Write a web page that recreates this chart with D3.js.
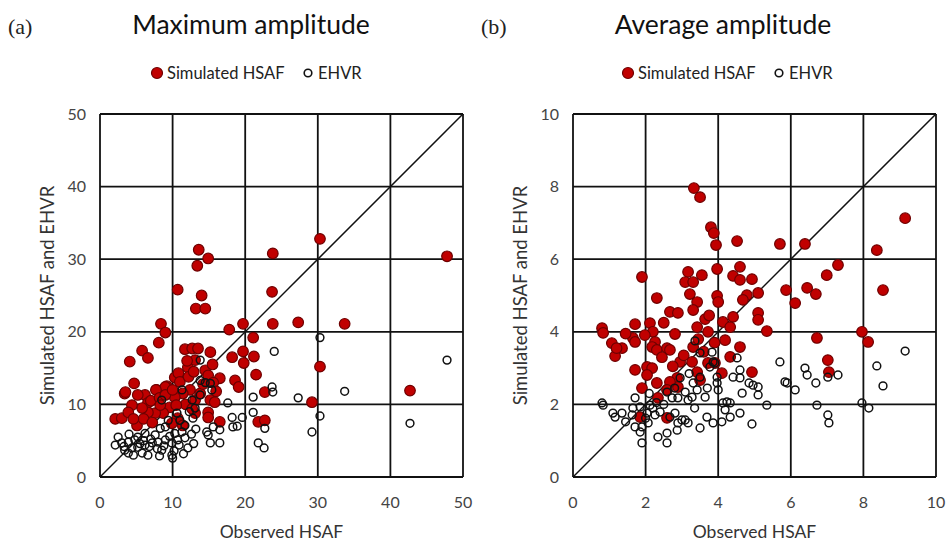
<!DOCTYPE html>
<html>
<head>
<meta charset="utf-8">
<script src="https://cdn.jsdelivr.net/npm/d3@7"></script>
<style>
  body { margin: 0; background: #fff; }
  svg { display: block; }
</style>
</head>
<body>
<script>
// observed vs simulated, maximum amplitude (panel a)
var maxHsaf = [
  [47.8,30.4],[42.7,11.9],[30.3,32.8],[23.8,30.8],[13.6,31.3],[14.9,30.1],[13.4,29.1],
  [10.7,25.8],[14.0,25.0],[23.7,25.5],[13.2,23.2],[14.5,23.2],[8.4,21.1],[9.0,19.9],
  [8.1,18.5],[17.8,20.3],[19.7,21.1],[23.8,21.1],[27.3,21.3],[33.7,21.1],[21.1,19.2],
  [5.8,17.4],[6.6,16.4],[4.1,15.9],[11.7,17.6],[12.7,17.7],[13.5,17.7],[15.2,17.2],
  [18.2,16.5],[19.7,17.3],[21.2,16.6],[19.8,15.7],[30.3,15.2],[21.5,14.1],[16.5,13.6],
  [18.6,13.3],[19.1,12.4],[22.7,11.7],[29.2,10.3],[21.8,7.6],[22.7,7.8],[16.5,7.6],
  [4.7,12.9],[3.4,11.5],[2.1,8.0],[3.0,8.1],[5.1,7.1],[6.2,11.3],[6.6,10.2],[7.8,12.0],
  [9.2,12.5],[10.3,13.7],[10.8,14.3],[12.1,15.1],[13.1,16.1],[14.5,14.7],[14.9,14.0],
  [15.6,13.0],[15.2,10.6],[15.8,10.3],[14.9,8.9],[13.1,10.6],[12.4,12.0],[11.4,11.5],
  [10.3,11.0],[9.6,9.6],[8.7,8.8],[7.6,8.8],[6.6,8.9],[5.8,9.5],[4.4,9.9],[3.9,8.9],
  [10.7,8.1],[11.4,7.1],[9.9,7.4],[13.1,8.8],[14.9,8.2],[9.0,12.4],[5.2,11.3],[3.5,11.7],
  [7.7,12.0],[7.0,10.5],[8.2,10.9],[9.0,11.3],[10.0,12.0],[11.0,13.1],[12.2,13.8],
  [12.9,14.5],[11.8,10.0],[12.7,9.4],[10.5,9.9],[8.3,9.9],[6.0,8.0],[4.6,8.0],[13.8,11.5],
  [14.2,12.8],[16.0,11.8],[7.2,7.5],[12.0,16.0],[15.5,15.5]
];
var maxEhvr = [
  [30.3,19.2],[24.0,17.3],[47.8,16.1],[13.8,16.1],[23.7,12.4],[23.8,11.7],[33.7,11.8],
  [27.3,10.9],[21.1,11.0],[21.1,8.9],[17.6,10.2],[19.6,8.2],[18.9,7.0],[18.2,8.2],
  [18.3,6.9],[30.3,8.4],[29.2,6.2],[42.7,7.4],[22.7,6.7],[21.8,4.7],[22.6,4.0],[16.5,4.7],
  [16.5,6.5],[15.2,4.7],[14.7,6.2],[14.9,5.8],[15.6,6.9],[14.5,13.0],[15.2,12.9],
  [13.8,11.3],[12.7,10.6],[13.1,9.5],[12.8,8.1],[11.7,7.1],[2.1,4.4],[3.0,4.7],[3.9,4.8],
  [4.8,5.1],[3.4,3.7],[4.4,4.0],[5.2,4.1],[6.2,4.4],[7.2,4.7],[8.0,4.8],[9.0,5.1],
  [9.9,4.7],[10.7,5.1],[11.7,5.4],[12.1,4.0],[9.9,3.0],[8.5,3.7],[6.6,3.0],[5.8,3.3],
  [3.9,3.3],[7.6,5.8],[8.3,6.7],[9.0,6.9],[10.3,6.0],[11.3,6.2],[10.6,8.8],[9.4,7.8],
  [6.2,6.0],[5.2,5.5],[2.5,5.5],[13.8,13.3],[15.4,12.0],[8.5,10.6],[11.3,12.0],
  [4.0,5.9],[5.5,4.6],[6.8,4.2],[7.9,3.9],[8.8,4.3],[10.2,3.6],[10.9,4.4],[11.5,3.2],
  [7.0,5.2],[9.6,5.6],[12.6,5.9],[13.2,6.6],[6.0,5.0],[4.6,3.0],[3.3,4.2],[8.2,2.9],
  [10.0,2.6],[12.9,4.6],[11.0,7.8],[12.3,9.0]
];
// observed vs simulated, average amplitude (panel b)
var avgHsaf = [
  [3.33,7.96],[3.50,7.71],[3.80,6.88],[3.88,6.72],[3.94,6.39],[4.52,6.50],[5.70,6.42],
  [6.39,6.42],[9.15,7.13],[8.37,6.25],[7.30,5.84],[6.99,5.56],[8.54,5.15],[1.90,5.51],
  [3.17,5.65],[3.55,5.56],[3.09,5.37],[3.31,5.37],[3.97,5.73],[4.60,5.79],[4.41,5.54],
  [4.60,5.43],[4.93,5.45],[5.10,5.07],[5.87,5.15],[6.45,5.21],[6.69,5.04],[2.31,4.93],
  [3.22,5.04],[3.97,4.99],[4.79,5.01],[6.12,4.79],[3.42,4.82],[4.0,4.82],[4.68,4.88],
  [2.67,4.55],[2.89,4.52],[3.31,4.60],[3.64,4.35],[5.10,4.52],[5.10,4.33],[4.41,4.41],
  [5.34,4.02],[0.80,4.10],[0.83,3.97],[1.71,4.21],[1.65,3.83],[2.12,4.24],[2.20,4.0],
  [2.81,3.94],[3.42,4.13],[3.72,4.0],[4.13,4.27],[4.33,4.13],[4.19,3.77],[1.07,3.69],
  [1.35,3.55],[1.16,3.33],[1.71,3.72],[1.98,3.91],[2.26,3.72],[2.18,3.58],[2.31,3.50],
  [2.59,3.55],[2.67,3.50],[3.31,3.58],[4.60,3.58],[6.72,3.83],[7.96,4.0],[8.13,3.72],
  [2.95,3.17],[3.72,3.14],[3.91,3.14],[4.33,3.31],[4.93,2.89],[7.02,3.22],[7.05,2.89],
  [1.71,2.95],[2.04,3.03],[2.18,3.00],[2.04,2.81],[2.87,2.73],[2.89,2.48],[2.67,2.62],
  [3.28,3.17],[3.42,2.89],[3.50,2.67],[4.10,2.86],[1.90,2.45],[2.31,2.59],[2.34,2.18],
  [2.59,2.40],[1.85,1.65],[2.59,1.63],[2.45,3.30],[2.75,3.05],[3.05,3.35],[3.60,3.45],
  [3.45,3.80],[3.75,4.45],[2.50,4.25],[1.45,3.95],[1.20,3.55],[3.90,3.70]
];
var avgEhvr = [
  [9.15,3.47],[8.37,3.06],[8.54,2.51],[7.96,2.04],[8.15,1.90],[7.30,2.81],[7.02,2.75],
  [6.69,2.59],[6.72,1.98],[7.02,1.71],[7.05,1.49],[6.39,3.00],[6.45,2.81],[5.70,3.17],
  [5.84,2.62],[5.90,2.59],[6.12,2.40],[5.34,1.98],[4.93,1.46],[4.60,1.76],[5.10,2.48],
  [5.10,2.26],[4.85,2.59],[4.96,2.53],[4.66,2.31],[4.41,2.75],[4.60,2.95],[4.60,2.73],
  [4.52,3.28],[3.83,3.44],[3.36,3.75],[3.50,3.42],[3.86,3.17],[3.97,2.75],[3.97,2.59],
  [4.0,2.40],[4.24,2.07],[4.13,2.04],[4.33,2.04],[4.19,1.85],[4.33,1.65],[4.10,1.52],
  [3.86,1.49],[3.69,1.65],[3.50,1.35],[3.31,2.59],[3.42,2.40],[3.28,2.20],[3.64,2.20],
  [2.95,2.73],[3.09,2.34],[3.17,2.12],[2.89,2.18],[3.0,1.57],[3.09,1.57],[3.17,1.49],
  [2.87,1.29],[2.89,1.49],[2.73,2.18],[2.59,2.34],[2.59,1.21],[2.59,0.94],[2.34,1.10],
  [2.26,1.71],[2.40,1.79],[2.04,1.76],[2.07,1.49],[1.90,1.38],[1.90,0.94],[1.85,1.24],
  [1.71,2.18],[1.65,1.90],[1.63,1.71],[1.71,1.38],[1.85,1.93],[2.12,1.98],[2.20,1.90],
  [0.80,2.04],[0.83,1.98],[1.10,1.76],[1.16,1.65],[1.35,1.76],[2.81,1.76],[2.67,1.65],
  [3.77,3.03],[3.91,3.14],[2.10,2.30],[2.30,2.05],[2.50,2.00],[2.80,2.45],[3.50,2.75],
  [3.20,2.85],[3.70,2.45],[2.00,1.62],[1.45,1.52],[3.35,1.90]
];
var maxTicks = [0, 10, 20, 30, 40, 50];
var avgTicks = [0, 2, 4, 6, 8, 10];

var W = 946, H = 542;
var svg = d3.select("body").append("svg")
  .attr("width", W)
  .attr("height", H);

var sansFont = "Lato, 'Open Sans', sans-serif";

function drawPanel(opt) {
  var x = d3.scaleLinear().domain([0, opt.max]).range([opt.left, opt.left + 363]);
  var y = d3.scaleLinear().domain([0, opt.max]).range([477, 114]);
  var g = svg.append("g");

  // gridlines
  g.selectAll(".vgrid").data(opt.ticks).enter().append("line")
    .attr("x1", function(d) { return x(d); }).attr("x2", function(d) { return x(d); })
    .attr("y1", y(0)).attr("y2", y(opt.max))
    .attr("stroke", "#111").attr("stroke-width", 1.8);
  g.selectAll(".hgrid").data(opt.ticks).enter().append("line")
    .attr("y1", function(d) { return y(d); }).attr("y2", function(d) { return y(d); })
    .attr("x1", x(0)).attr("x2", x(opt.max))
    .attr("stroke", "#111").attr("stroke-width", 1.8);

  // 1:1 line
  g.append("line")
    .attr("x1", x(0)).attr("y1", y(0))
    .attr("x2", x(opt.max)).attr("y2", y(opt.max))
    .attr("stroke", "#111").attr("stroke-width", 1.5);

  // tick labels
  g.selectAll(".xt").data(opt.ticks).enter().append("text")
    .attr("x", function(d) { return x(d); })
    .attr("y", 508)
    .attr("text-anchor", "middle")
    .attr("fill", "#444")
    .style("font-family", sansFont).style("font-size", "16px")
    .text(function(d) { return d; });
  g.selectAll(".yt").data(opt.ticks).enter().append("text")
    .attr("x", opt.left - 14)
    .attr("y", function(d) { return y(d) + 5.5; })
    .attr("text-anchor", "end")
    .attr("fill", "#444")
    .style("font-family", sansFont).style("font-size", "16px")
    .text(function(d) { return d; });

  // axis titles
  g.append("text")
    .attr("x", x(opt.max / 2)).attr("y", 538)
    .attr("text-anchor", "middle")
    .attr("fill", "#333")
    .style("font-family", sansFont).style("font-size", "17.5px")
    .text("Observed HSAF");
  g.append("text")
    .attr("transform", "translate(" + (opt.left - 46) + "," + y(opt.max / 2) + ") rotate(-90)")
    .attr("text-anchor", "middle")
    .attr("fill", "#333")
    .style("font-family", sansFont).style("font-size", "18.5px")
    .text("Simulated HSAF and EHVR");

  // points: simulated first, EHVR on top
  g.selectAll(".sim").data(opt.sim).enter().append("circle")
    .attr("cx", function(d) { return x(d[0]); })
    .attr("cy", function(d) { return y(d[1]); })
    .attr("r", 5.3)
    .attr("fill", "#c00000")
    .attr("stroke", "#6e0000")
    .attr("stroke-width", 1.2);
  g.selectAll(".ehvr").data(opt.ehvr).enter().append("circle")
    .attr("cx", function(d) { return x(d[0]); })
    .attr("cy", function(d) { return y(d[1]); })
    .attr("r", 3.9)
    .attr("fill", "none")
    .attr("stroke", "#111")
    .attr("stroke-width", 1.5);

  // panel letter and title
  g.append("text")
    .attr("x", opt.left - 92).attr("y", 34)
    .style("font-family", "'Liberation Serif', serif").style("font-size", "22px")
    .attr("fill", "#222")
    .text(opt.letter);
  g.append("text")
    .attr("x", opt.titleX).attr("y", 34)
    .attr("text-anchor", "middle")
    .attr("fill", "#111")
    .style("font-family", sansFont).style("font-size", "26.5px")
    .text(opt.title);

  // legend
  var lg = g.append("g").attr("transform", "translate(" + opt.legendX + ",73)");
  lg.append("circle").attr("cx", 0).attr("cy", 0).attr("r", 5.5)
    .attr("fill", "#c00000").attr("stroke", "#6e0000").attr("stroke-width", 1.2);
  lg.append("text").attr("x", 10).attr("y", 5.8)
    .attr("fill", "#222")
    .style("font-family", sansFont).style("font-size", "16.5px")
    .text("Simulated HSAF");
  lg.append("circle").attr("cx", 151).attr("cy", 0).attr("r", 3.8)
    .attr("fill", "none").attr("stroke", "#111").attr("stroke-width", 1.6);
  lg.append("text").attr("x", 161).attr("y", 5.8)
    .attr("fill", "#222")
    .style("font-family", sansFont).style("font-size", "16.5px")
    .text("EHVR");
}

drawPanel({ left: 100, max: 50, ticks: maxTicks, sim: maxHsaf, ehvr: maxEhvr,
  letter: "(a)", title: "Maximum amplitude", titleX: 251, legendX: 157 });
drawPanel({ left: 573, max: 10, ticks: avgTicks, sim: avgHsaf, ehvr: avgEhvr,
  letter: "(b)", title: "Average amplitude", titleX: 723, legendX: 628 });
</script>
</body>
</html>
